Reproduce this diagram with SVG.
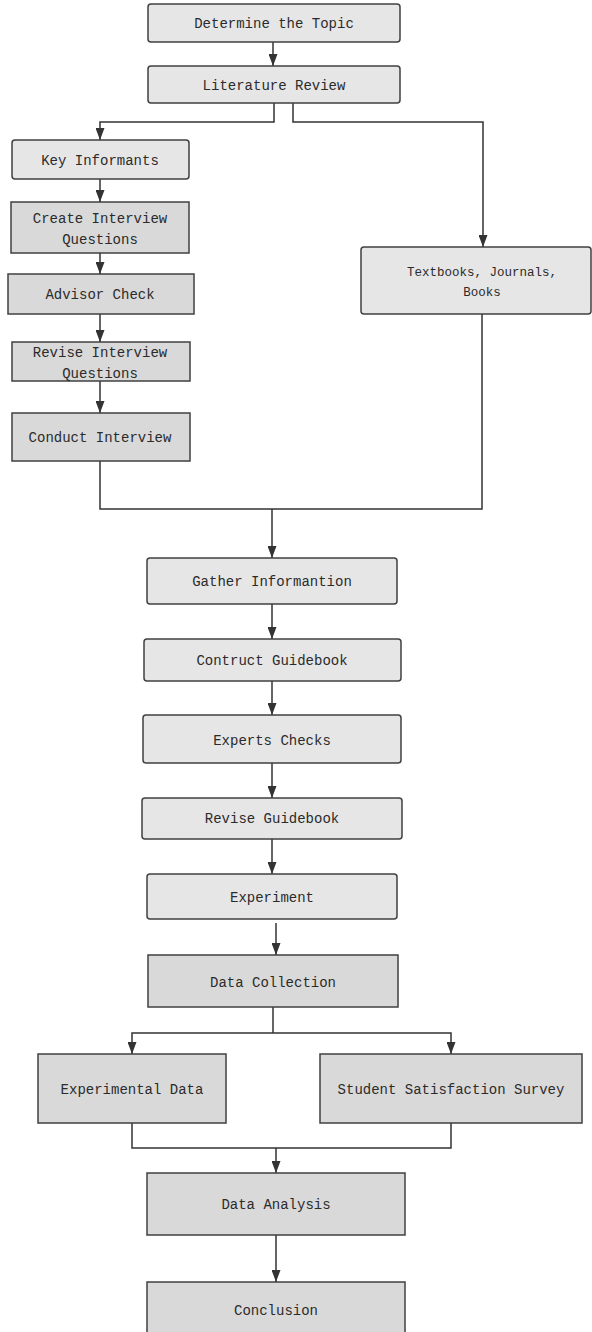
<svg xmlns="http://www.w3.org/2000/svg" width="592" height="1332" viewBox="0 0 592 1332">
<style>
.lt{fill:#e6e6e6;stroke:#404040;stroke-width:1.5}
.dk{fill:#d9d9d9;stroke:#404040;stroke-width:1.5}
.t{font-family:"Liberation Mono","DejaVu Sans Mono",monospace;font-size:14px;fill:#2b2b2b;text-anchor:middle}
.c{fill:none;stroke:#333;stroke-width:1.5}
</style>
<defs>
<marker id="ah" markerUnits="userSpaceOnUse" markerWidth="12" markerHeight="9" refX="12" refY="4.5" orient="auto">
<path d="M0,0 L12,4.5 L0,9 z" fill="#333"/>
</marker>
</defs>
<rect width="592" height="1332" fill="#fff"/>
<g id="connectors">
<path class="c" d="M273,42 V66" marker-end="url(#ah)"/>
<path class="c" d="M274,103 V122 H100 V140" marker-end="url(#ah)"/>
<path class="c" d="M293,103 V122 H483 V247" marker-end="url(#ah)"/>
<path class="c" d="M100,179 V202" marker-end="url(#ah)"/>
<path class="c" d="M100,253 V274" marker-end="url(#ah)"/>
<path class="c" d="M100,314 V342" marker-end="url(#ah)"/>
<path class="c" d="M100,381 V413" marker-end="url(#ah)"/>
<path class="c" d="M100,461 V509 H482 V314"/>
<path class="c" d="M272,509 V558" marker-end="url(#ah)"/>
<path class="c" d="M272,604 V639" marker-end="url(#ah)"/>
<path class="c" d="M272,681 V715" marker-end="url(#ah)"/>
<path class="c" d="M272,763 V798" marker-end="url(#ah)"/>
<path class="c" d="M272,839 V874" marker-end="url(#ah)"/>
<path class="c" d="M276,923 V955" marker-end="url(#ah)"/>
<path class="c" d="M273,1007 V1033"/>
<path class="c" d="M273,1033 H132 V1054" marker-end="url(#ah)"/>
<path class="c" d="M273,1033 H451 V1054" marker-end="url(#ah)"/>
<path class="c" d="M132,1123 V1148 H451 V1123"/>
<path class="c" d="M276,1148 V1173" marker-end="url(#ah)"/>
<path class="c" d="M276,1235 V1282" marker-end="url(#ah)"/>
</g>
<g id="n1"><rect class="lt" x="148" y="4" width="252" height="38" rx="3"/><text class="t" x="274" y="28">Determine the Topic</text></g>
<g id="n2"><rect class="lt" x="148" y="66" width="252" height="37" rx="3"/><text class="t" x="274" y="90">Literature Review</text></g>
<g id="n3"><rect class="lt" x="12" y="140" width="177" height="39" rx="3"/><text class="t" x="100" y="165">Key Informants</text></g>
<g id="n4"><rect class="dk" x="11" y="202" width="178" height="51"/><text class="t" x="100" y="223">Create Interview</text><text class="t" x="100" y="244">Questions</text></g>
<g id="n5"><rect class="dk" x="8" y="274" width="186" height="40"/><text class="t" x="100" y="299">Advisor Check</text></g>
<g id="n6"><rect class="dk" x="12" y="342" width="178" height="39"/><text class="t" x="100" y="357">Revise Interview</text><text class="t" x="100" y="378">Questions</text></g>
<g id="n7"><rect class="dk" x="12" y="413" width="178" height="48"/><text class="t" x="100" y="442">Conduct Interview</text></g>
<g id="n8"><rect class="lt" x="361" y="247" width="230" height="67" rx="3"/><text class="t" x="482" y="276" style="font-size:12.5px">Textbooks, Journals,</text><text class="t" x="482" y="296" style="font-size:12.5px">Books</text></g>
<g id="n9"><rect class="lt" x="147" y="558" width="250" height="46" rx="3"/><text class="t" x="272" y="586">Gather Informantion</text></g>
<g id="n10"><rect class="lt" x="144" y="639" width="257" height="42" rx="3"/><text class="t" x="272" y="665">Contruct Guidebook</text></g>
<g id="n11"><rect class="lt" x="143" y="715" width="258" height="48" rx="3"/><text class="t" x="272" y="745">Experts Checks</text></g>
<g id="n12"><rect class="lt" x="142" y="798" width="260" height="41" rx="3"/><text class="t" x="272" y="823">Revise Guidebook</text></g>
<g id="n13"><rect class="lt" x="147" y="874" width="250" height="45" rx="3"/><text class="t" x="272" y="902">Experiment</text></g>
<g id="n14"><rect class="dk" x="148" y="955" width="250" height="52"/><text class="t" x="273" y="987">Data Collection</text></g>
<g id="n15"><rect class="dk" x="38" y="1054" width="188" height="69"/><text class="t" x="132" y="1094">Experimental Data</text></g>
<g id="n16"><rect class="dk" x="320" y="1054" width="262" height="69"/><text class="t" x="451" y="1094">Student Satisfaction Survey</text></g>
<g id="n17"><rect class="dk" x="147" y="1173" width="258" height="62"/><text class="t" x="276" y="1209">Data Analysis</text></g>
<g id="n18"><rect class="dk" x="147" y="1282" width="258" height="62"/><text class="t" x="276" y="1315">Conclusion</text></g>
</svg>
